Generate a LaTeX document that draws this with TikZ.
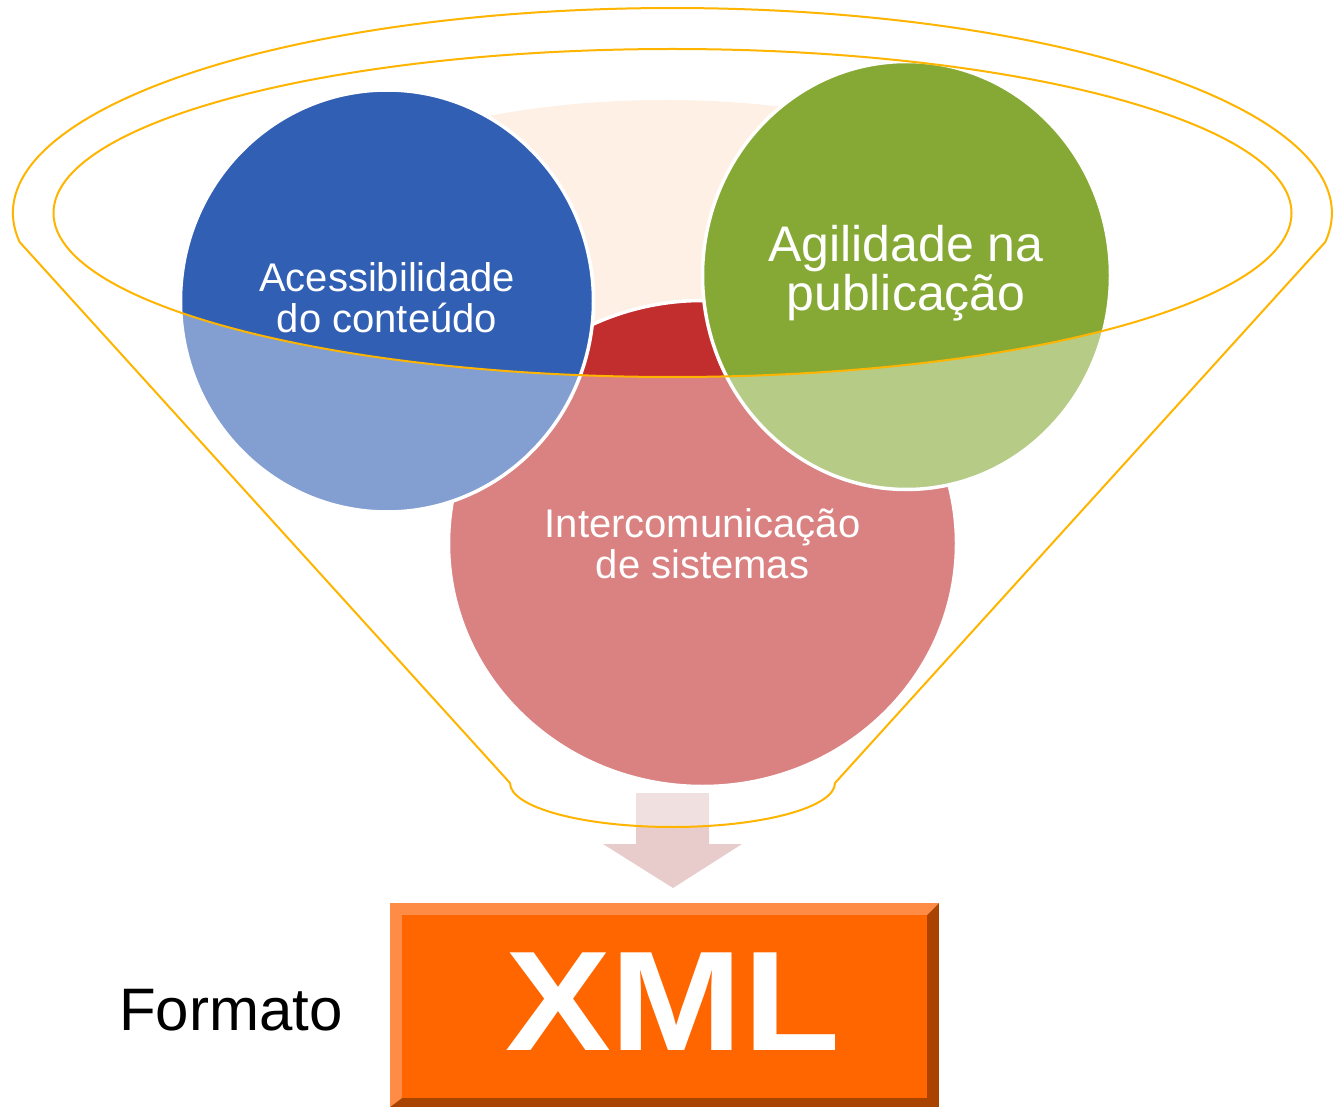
\documentclass[tikz,border=0pt]{standalone}
\usepackage{fontspec}
\usepackage{graphicx}
\setmainfont{Liberation Sans}
\definecolor{blueD}{RGB}{49,95,180}
\definecolor{greenD}{RGB}{134,169,53}
\definecolor{redD}{RGB}{194,45,46}
\definecolor{peach}{RGB}{254,240,228}
\definecolor{gold}{RGB}{255,180,0}
\definecolor{arrowpink}{RGB}{232,204,204}
\definecolor{xmlorange}{RGB}{255,102,0}
\definecolor{xmllight}{RGB}{255,140,70}
\definecolor{xmldark}{RGB}{168,67,0}
\tikzset{
  bubble/.style={draw=white, line width=3.5pt},
  funnelline/.style={draw=gold, line width=2pt},
  lbl/.style={text=white, inner sep=0pt, anchor=base},
  smalltxt/.style={font=\fontsize{40}{48}\selectfont},
  bigtxt/.style={font=\fontsize{50}{58}\selectfont},
}
\begin{document}
\begin{tikzpicture}[x=1pt,y=-1pt,line join=round]
\useasboundingbox (0,0) rectangle (1334,1107);
% pale back shape
\begin{scope}
  \clip (400,0) rectangle (850,360);
  \fill[peach] (665,300) ellipse [x radius=450, y radius=200];
\end{scope}
% circles
\fill[redD, bubble] (702.5,543.5) ellipse [x radius=254, y radius=243];
\fill[blueD, bubble] (387,301) ellipse [x radius=206.5, y radius=211];
\fill[greenD, bubble] (906.5,275.5) ellipse [x radius=204, y radius=214];
% arrow
\fill[arrowpink] (636,793) -- (709,793) -- (709,844) -- (742,844) -- (673,888) -- (603,844) -- (636,844) -- cycle;
% funnel body (translucent white)
\fill[white, fill opacity=0.4, even odd rule]
  (19.6,242) arc[start angle=171.87, end angle=368.13, x radius=659.5, y radius=205]
  -- (835,783) arc[start angle=0, end angle=180, x radius=162.5, y radius=44] -- cycle
  (672.5,213) ellipse [x radius=619, y radius=164];
% funnel outlines
\draw[funnelline]
  (19.6,242) arc[start angle=171.87, end angle=368.13, x radius=659.5, y radius=205]
  -- (835,783) arc[start angle=0, end angle=180, x radius=162.5, y radius=44] -- cycle;
\draw[funnelline] (672.5,213) ellipse [x radius=619, y radius=164];
% labels
\node[lbl, smalltxt] (acc1) at (387,292) {Acessibilidade};
\node[lbl, smalltxt] (acc2) at (387,333) {do conteúdo};
\node[lbl, bigtxt] (agi1) at (906,262) {Agilidade na};
\node[lbl, bigtxt] (agi2) at (906,311) {publicação};
\node[lbl, smalltxt] (int1) at (702.5,537) {Intercomunicação};
\node[lbl, smalltxt] (int2) at (702.5,578) {de sistemas};
% XML box
\fill[xmldark] (390,903) rectangle (939,1107);
\fill[xmllight] (390,903) -- (939,903) -- (927,915) -- (402,915) -- (402,1098) -- (390,1107) -- cycle;
\fill[xmlorange] (402,915) rectangle (927,1098);
\node[lbl, font=\fontsize{142}{150}\selectfont\bfseries] (xml) at (672.5,1050) {\scalebox{1.117}[1]{XML}};
\node[inner sep=0pt, anchor=base west, text=black, font=\fontsize{60}{70}\selectfont] (fmt) at (119,1030) {Formato};
\end{tikzpicture}
\end{document}
